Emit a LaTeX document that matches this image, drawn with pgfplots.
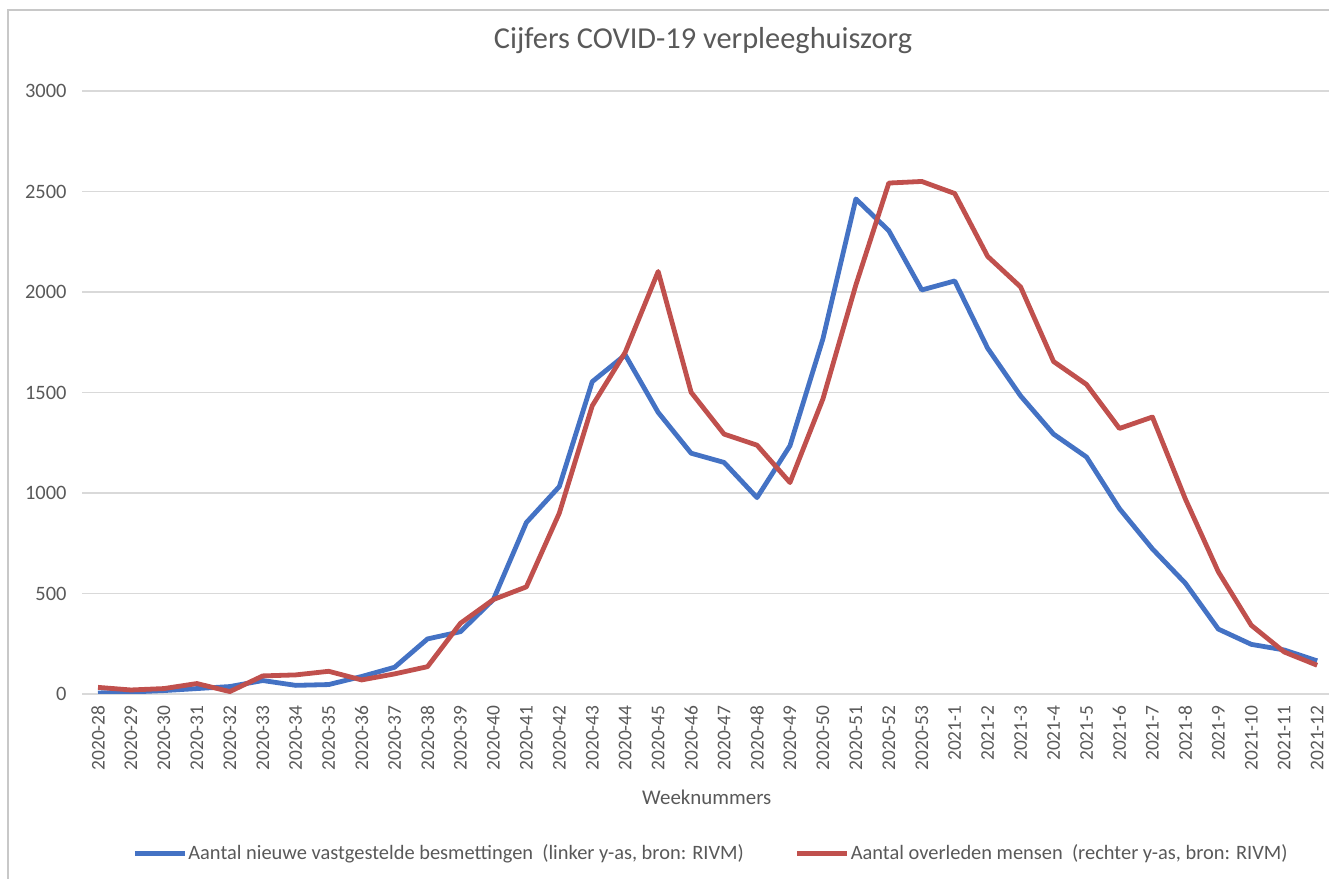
\documentclass[border=0pt]{standalone}
\usepackage{pgfplots}
\pgfplotsset{compat=1.18}
\usepackage{fontspec}
\setmainfont{Carlito}
\definecolor{cblue}{RGB}{68,114,196}
\definecolor{cred}{RGB}{192,80,77}
\definecolor{tgray}{RGB}{89,89,89}
\definecolor{ggray}{RGB}{217,217,217}
\definecolor{fgray}{RGB}{200,200,200}

\begin{document}
\begin{tikzpicture}
\draw[fgray, line width=1.5bp] (8bp,-20bp) -- (8bp,869bp) -- (1360bp,869bp);
\begin{axis}[
  at={(82bp,185bp)}, anchor=south west,
  scale only axis, width=1247bp, height=603bp,
  xmin=-0.486, xmax=37.36, ymin=0, ymax=3000,
  axis line style={draw=none},
  tick style={draw=none},
  ytick={0,500,...,3000},
  ymajorgrids,
  major grid style={ggray, line width=1.3bp},
  /pgf/number format/assume math mode=true,
  /pgf/number format/1000 sep={},
  yticklabel style={font=\fontsize{20.5}{22}\selectfont, text=tgray, xshift=-12bp},
  xtick={0,...,37},
  xticklabels={2020-28,2020-29,2020-30,2020-31,2020-32,2020-33,2020-34,2020-35,2020-36,2020-37,2020-38,2020-39,2020-40,2020-41,2020-42,2020-43,2020-44,2020-45,2020-46,2020-47,2020-48,2020-49,2020-50,2020-51,2020-52,2020-53,2021-1,2021-2,2021-3,2021-4,2021-5,2021-6,2021-7,2021-8,2021-9,2021-10,2021-11,2021-12},
  xticklabel style={rotate=90, anchor=east, font=\fontsize{19.5}{21}\selectfont, text=tgray, xshift=-8bp},
  title={Cijfers COVID-19 verpleeghuiszorg},
  title style={at={(0.498,1.073)}, anchor=center, font=\fontsize{30.5}{32}\selectfont, text=tgray},
  xlabel={Weeknummers},
  xlabel style={at={(0.501,-0.171)}, anchor=center, font=\fontsize{21}{23}\selectfont, text=tgray},
  legend style={at={(0.504,-0.264)}, anchor=center, draw=none, fill=none,
    legend columns=2, font=\fontsize{20.5}{22}\selectfont, text=tgray,
    /tikz/every even column/.append style={column sep=50bp},
    nodes={inner xsep=1bp}},
  legend image code/.code={\draw[#1, line width=5bp] (0bp,0bp) -- (50bp,0bp);},
  every axis plot/.append style={line width=4.8bp, line join=round},
]
\addplot[cblue, mark=none] coordinates {
(0,5) (1,10) (2,17) (3,27) (4,37) (5,67) (6,43) (7,47) (8,87) (9,133)
(10,274) (11,310) (12,470) (13,853) (14,1032) (15,1554) (16,1687) (17,1401) (18,1198) (19,1152)
(20,977) (21,1235) (22,1767) (23,2463) (24,2305) (25,2010) (26,2055) (27,1720) (28,1483) (29,1293)
(30,1179) (31,922) (32,722) (33,551) (34,323) (35,247) (36,219) (37,165)
};
\addlegendentry{Aantal nieuwe vastgestelde besmettingen\ \ (linker y-as, bron: RIVM)}
\addplot[cred, mark=none] coordinates {
(0,33) (1,20) (2,27) (3,52) (4,12) (5,90) (6,95) (7,113) (8,70) (9,100)
(10,136) (11,352) (12,470) (13,533) (14,900) (15,1434) (16,1700) (17,2102) (18,1501) (19,1293)
(20,1238) (21,1052) (22,1468) (23,2035) (24,2542) (25,2550) (26,2490) (27,2177) (28,2025) (29,1654)
(30,1540) (31,1321) (32,1378) (33,970) (34,608) (35,342) (36,209) (37,143)
};
\addlegendentry{Aantal overleden mensen\ \ (rechter y-as, bron: RIVM)}
\end{axis}
\pgfresetboundingbox
\path[use as bounding box] (0bp,0bp) rectangle (1329bp,879bp);
\end{tikzpicture}
\end{document}
